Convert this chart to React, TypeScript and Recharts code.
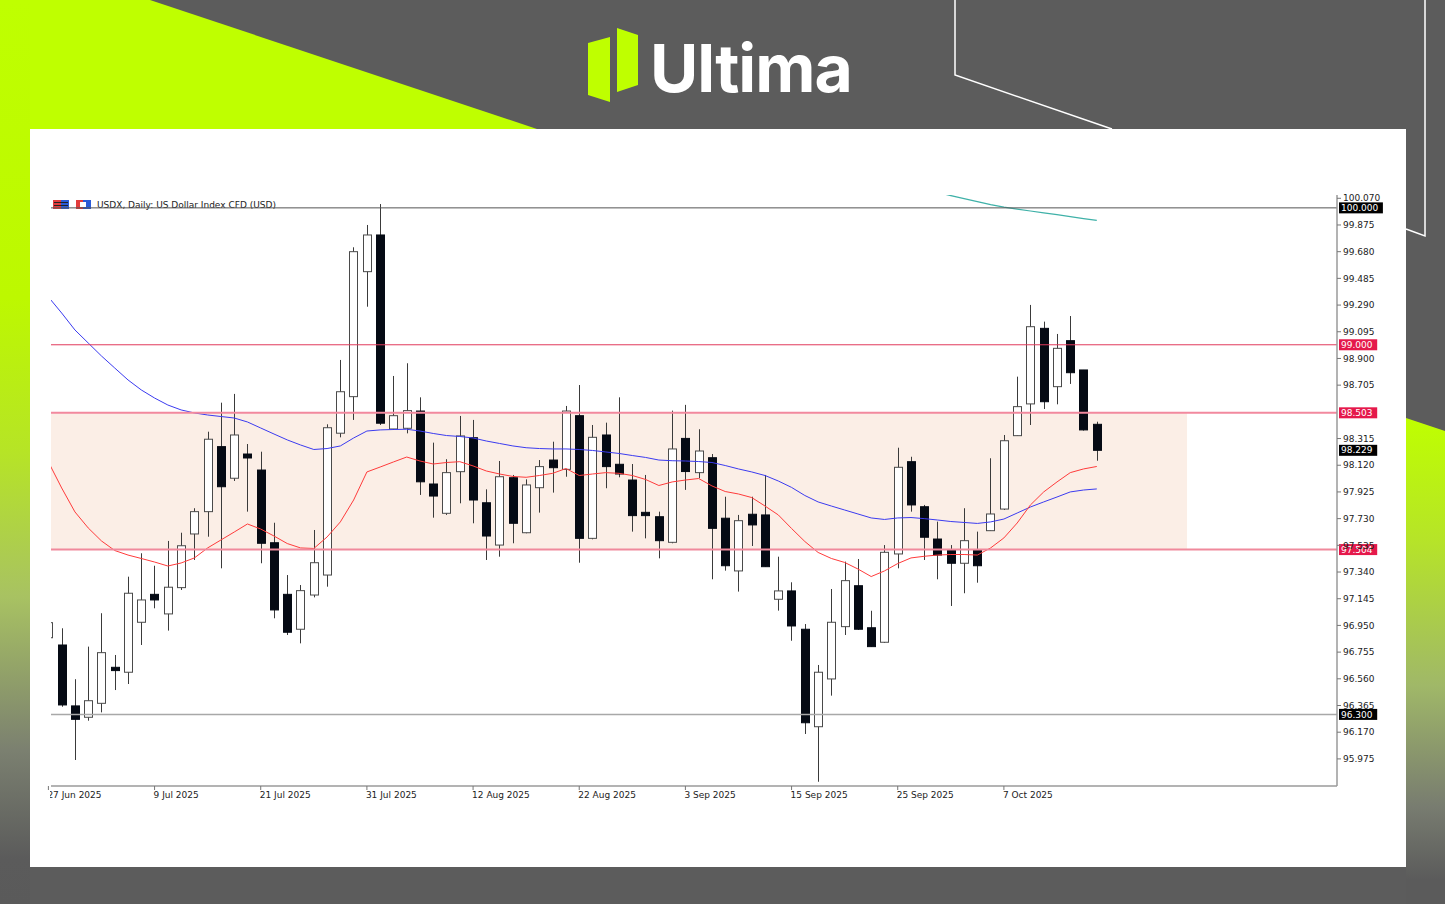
import React from 'react';
import {
  ComposedChart,
  Bar,
  Line,
  XAxis,
  YAxis,
  ReferenceLine,
  ReferenceArea
} from 'recharts';

// daily bars 27 Jun 2025 .. 16 Oct 2025 (index = bar number)
const opens = [
  96.86, 96.807, 96.362, 96.279, 96.381, 96.644, 96.608, 96.973, 97.177, 97.034,
  97.226, 97.618, 97.781, 98.256, 98.025, 98.202, 98.085, 97.554, 97.177, 96.922,
  97.172, 97.318, 98.354, 98.621, 99.534, 99.802, 98.385, 98.39, 98.516, 97.983,
  97.769, 98.073, 98.321, 97.846, 97.537, 98.029, 97.627, 97.956, 98.158, 98.09,
  98.482, 97.586, 98.341, 98.127, 98.012, 97.776, 97.744, 97.557, 98.316, 98.066,
  98.175, 97.733, 97.348, 97.762, 97.757, 97.141, 97.202, 96.922, 96.21, 96.559,
  96.941, 97.24, 96.933, 96.827, 97.472, 98.146, 97.817, 97.581, 97.501, 97.404,
  97.501, 97.642, 97.8, 98.336, 98.568, 99.12, 98.694, 99.03, 98.816, 98.419
];
const highs = [
  97.0, 96.929, 96.557, 96.795, 97.039, 96.734, 97.306, 97.477, 97.386, 97.567,
  97.627, 97.806, 98.365, 98.577, 98.641, 98.275, 98.219, 97.7, 97.318, 97.245,
  97.647, 98.419, 98.889, 99.712, 99.875, 100.028, 98.772, 98.865, 98.616, 98.285,
  98.164, 98.48, 98.451, 97.944, 98.151, 98.049, 98.017, 98.158, 98.292, 98.553,
  98.706, 98.414, 98.431, 98.616, 98.129, 98.049, 97.781, 98.519, 98.561, 98.383,
  98.202, 97.89, 97.757, 97.89, 98.049, 97.452, 97.265, 96.96, 96.661, 97.216,
  97.416, 97.435, 97.057, 97.537, 98.248, 98.182, 97.83, 97.708, 97.537, 97.806,
  97.635, 98.171, 98.341, 98.767, 99.291, 99.169, 99.079, 99.21, 98.816, 98.438
];
const lows = [
  96.82, 96.356, 95.967, 96.254, 96.315, 96.478, 96.522, 96.807, 97.075, 96.912,
  97.209, 97.428, 97.598, 97.367, 98.005, 97.781, 97.404, 97.002, 96.88, 96.819,
  97.155, 97.233, 98.324, 98.451, 99.278, 98.414, 98.378, 98.353, 97.903, 97.737,
  97.757, 97.842, 97.696, 97.428, 97.452, 97.55, 97.623, 97.774, 97.92, 98.036,
  97.408, 97.579, 97.952, 98.032, 97.635, 97.586, 97.44, 97.55, 97.94, 98.025,
  97.287, 97.35, 97.197, 97.53, 97.377, 97.058, 96.838, 96.157, 95.808, 96.437,
  96.88, 96.917, 96.793, 96.822, 97.367, 97.781, 97.428, 97.287, 97.092, 97.185,
  97.262, 97.64, 97.793, 98.334, 98.414, 98.531, 98.565, 98.714, 98.373, 98.153
];
const closes = [
  96.97, 96.369, 96.264, 96.4, 96.751, 96.62, 97.185, 97.136, 97.136, 97.229,
  97.532, 97.781, 98.31, 97.963, 98.341, 98.173, 97.55, 97.063, 96.9, 97.204,
  97.408, 98.394, 98.657, 99.68, 99.802, 98.427, 98.482, 98.519, 97.999, 97.895,
  98.066, 98.334, 97.866, 97.603, 98.036, 97.696, 97.976, 98.11, 98.102, 98.516,
  97.586, 98.324, 98.11, 98.056, 97.752, 97.752, 97.569, 98.239, 98.074, 98.224,
  97.659, 97.386, 97.715, 97.684, 97.379, 97.202, 96.946, 96.239, 96.608, 96.973,
  97.277, 96.922, 96.795, 97.484, 98.105, 97.83, 97.594, 97.464, 97.404, 97.569,
  97.386, 97.764, 98.299, 98.548, 99.132, 98.584, 98.974, 98.796, 98.378, 98.229
];

// moving averages
const maRed = [
  98.144, 97.954, 97.779, 97.662, 97.567, 97.497, 97.464, 97.439, 97.413, 97.384,
  97.406, 97.443, 97.516, 97.574, 97.632, 97.691, 97.654, 97.603, 97.548, 97.516,
  97.512, 97.596, 97.706, 97.866, 98.071, 98.107, 98.144, 98.18, 98.151, 98.129,
  98.14, 98.146, 98.115, 98.078, 98.056, 98.038, 98.032, 98.045, 98.061, 98.096,
  98.045, 98.056, 98.066, 98.061, 98.045, 98.016, 97.972, 97.998, 98.012, 98.023,
  97.969, 97.928, 97.91, 97.884, 97.822, 97.757, 97.658, 97.563, 97.483, 97.439,
  97.41, 97.362, 97.307, 97.348, 97.402, 97.443, 97.455, 97.464, 97.468, 97.468,
  97.464, 97.516, 97.589, 97.698, 97.83, 97.925, 97.998, 98.066, 98.093, 98.111
];
const maBlue = [
  99.349, 99.232, 99.108, 99.013, 98.918, 98.83, 98.743, 98.67, 98.611, 98.56,
  98.524, 98.502, 98.487, 98.476, 98.465, 98.436, 98.392, 98.348, 98.305, 98.268,
  98.235, 98.242, 98.261, 98.319, 98.37, 98.378, 98.381, 98.383, 98.37, 98.352,
  98.337, 98.33, 98.319, 98.297, 98.279, 98.261, 98.248, 98.242, 98.239, 98.239,
  98.235, 98.228, 98.217, 98.206, 98.191, 98.177, 98.158, 98.153, 98.151, 98.147,
  98.14, 98.118, 98.093, 98.071, 98.045, 98.005, 97.958, 97.899, 97.852, 97.822,
  97.793, 97.764, 97.735, 97.724, 97.735, 97.738, 97.73, 97.72, 97.709, 97.702,
  97.695, 97.706, 97.727, 97.771, 97.815, 97.852, 97.888, 97.925, 97.939, 97.947
];
// long average only shows at the top right, from bar 67 on
const maTealStart = 67;
const maTeal = [
  100.112, 100.09, 100.068, 100.046, 100.024, 100.005, 99.991, 99.977, 99.963,
  99.95, 99.936, 99.922, 99.909
];

const dateTicks = [0, 8, 16, 24, 32, 40, 48, 56, 64, 72];
const dateLabels = [
  '27 Jun 2025', '9 Jul 2025', '21 Jul 2025', '31 Jul 2025', '12 Aug 2025',
  '22 Aug 2025', '3 Sep 2025', '15 Sep 2025', '25 Sep 2025', '7 Oct 2025'
];

const priceTicks = [
  100.07, 99.875, 99.68, 99.485, 99.29, 99.095, 98.9, 98.705, 98.315, 98.12,
  97.925, 97.73, 97.535, 97.34, 97.145, 96.95, 96.755, 96.56, 96.365, 96.17, 95.975
];

const zoneLow = 97.504;
const zoneHigh = 98.503;
const zoneEnd = 85.8;
const resistance = 99.0;
const roundLevel = 100.0;
const supportLevel = 96.3;
const lastPrice = 98.229;

const data = opens.map((o, i) => ({
  i,
  open: o,
  high: highs[i],
  low: lows[i],
  close: closes[i],
  range: [lows[i], highs[i]],
  maRed: maRed[i],
  maBlue: maBlue[i],
  maTeal: i >= maTealStart ? maTeal[i - maTealStart] : null
}));

const FONT = 'DejaVu Sans, sans-serif';
const PLOT_LEFT = 51;

function Candle(props: any) {
  const { x, y, width, height, payload } = props;
  if (x == null || y == null || !payload) return null;
  const { open, high, low, close } = payload;
  const top = Math.min(y, y + height);
  const h = Math.abs(height);
  const toY = (v: number) => (high === low ? top : top + ((high - v) / (high - low)) * h);
  const cx = Math.round(x + width / 2) + 0.5;
  const bodyTop = toY(Math.max(open, close));
  const bodyBot = toY(Math.min(open, close));
  const bull = close >= open;
  return (
    <g>
      <line x1={cx} x2={cx} y1={top} y2={top + h} stroke="#3a3a3a" strokeWidth={1} />
      <rect
        x={cx - 4}
        y={bodyTop}
        width={8}
        height={Math.max(1, bodyBot - bodyTop)}
        fill={bull ? '#ffffff' : '#050a14'}
        stroke={bull ? '#4a4a4a' : '#050a14'}
        strokeWidth={1}
      />
    </g>
  );
}

function DateTick(props: any) {
  const { x, y, payload, index } = props;
  const label = dateLabels[dateTicks.indexOf(payload.value)] ?? '';
  return (
    <g>
      {index === 0 && (
        <defs>
          <clipPath id="firstTickClip">
            <rect x={PLOT_LEFT - 1} y={y - 10} width={200} height={30} />
          </clipPath>
        </defs>
      )}
      <text
        x={x - 1}
        y={y}
        dy="0.71em"
        textAnchor="start"
        fontSize={9}
        fontFamily={FONT}
        fill="#222"
        clipPath={index === 0 ? 'url(#firstTickClip)' : undefined}
      >
        {label}
      </text>
    </g>
  );
}

function priceBox(color: string, text: string) {
  return (props: any) => {
    const vb = props.viewBox || {};
    const right = (vb.x ?? 0) + (vb.width ?? 0);
    const w = text.length * 5.7 + 4;
    return (
      <g>
        <rect x={right + 2} y={vb.y - 5.5} width={w} height={11} fill={color} />
        <text
          x={right + 4}
          y={vb.y}
          dy="0.35em"
          fontSize={9}
          fontFamily={FONT}
          fill="#fff"
        >
          {text}
        </text>
      </g>
    );
  };
}

function Frame() {
  return (
    <svg width={1445} height={904} style={{ position: 'absolute', left: 0, top: 0 }}>
      <defs>
        <linearGradient id="leftFade" x1="0" y1="0" x2="0" y2="904" gradientUnits="userSpaceOnUse">
          <stop offset="0" stopColor="#bfff00" />
          <stop offset="0.33" stopColor="#bdf800" />
          <stop offset="0.5" stopColor="#b6e426" />
          <stop offset="0.66" stopColor="#a8c262" />
          <stop offset="0.83" stopColor="#7b8070" />
          <stop offset="0.95" stopColor="#5b5b5b" />
          <stop offset="1" stopColor="#5a5a5a" />
        </linearGradient>
        <linearGradient id="rightFade" x1="0" y1="418" x2="0" y2="904" gradientUnits="userSpaceOnUse">
          <stop offset="0" stopColor="#bfff00" />
          <stop offset="0.25" stopColor="#b6e428" />
          <stop offset="0.55" stopColor="#a0b868" />
          <stop offset="0.8" stopColor="#787c70" />
          <stop offset="0.95" stopColor="#5b5b5b" />
        </linearGradient>
      </defs>
      <rect width={1445} height={904} fill="#5c5c5c" />
      <polygon points="0,0 150,0 537,129 0,129" fill="#bfff00" />
      <rect x={0} y={0} width={30} height={904} fill="url(#leftFade)" />
      <polygon points="1406,418 1445,431 1445,904 1406,904" fill="url(#rightFade)" />
      <polyline points="955,0 955,75 1112,129" stroke="#fff" strokeWidth={1.5} fill="none" />
      <polyline points="1425,0 1425,236 1406,229" stroke="#fff" strokeWidth={1.5} fill="none" />
      <rect x={30} y={129} width={1376} height={738} fill="#fff" />

      {/* logo */}
      <polygon points="588,43 610,37 610,102 588,95" fill="#bfff00" />
      <polygon points="617,28 638,35 638,85 617,92" fill="#bfff00" />
      <text x={650} y={92} fontSize={66} fontWeight={700} fontFamily="Inter, sans-serif" fill="#fff" letterSpacing={-1}>
        Ultima
      </text>

      {/* chart header */}
      <rect x={53} y={200} width={8} height={9} fill="#e23b3b" />
      <rect x={61} y={200} width={8} height={9} fill="#2a5bd7" />
      <rect x={54} y={202} width={14} height={1} fill="#222" />
      <rect x={54} y={205} width={14} height={1} fill="#222" />
      <rect x={76} y={200} width={7} height={9} fill="#e23b3b" />
      <rect x={83} y={200} width={8} height={9} fill="#2a5bd7" />
      <rect x={80} y={202} width={6} height={5} fill="#fff" />
      <text x={97} y={208} fontSize={9} fontFamily={FONT} fill="#222">
        USDX, Daily:  US Dollar Index CFD (USD)
      </text>
    </svg>
  );
}

export default function App() {
  return (
    <div style={{ position: 'fixed', left: 0, top: 0, width: 1445, height: 904, overflow: 'hidden' }}>
      <Frame />
      <div style={{ position: 'absolute', left: 0, top: 0 }}>
        <ComposedChart
          width={1445}
          height={904}
          data={data}
          margin={{ top: 195, left: 51, right: 48, bottom: 98 }}
        >
          <ReferenceArea
            x2={zoneEnd}
            y1={zoneLow}
            y2={zoneHigh}
            fill="#fbeee6"
            fillOpacity={1}
            stroke="none"
          />
          <XAxis
            type="number"
            dataKey="i"
            domain={[0.196, 97.1]}
            allowDataOverflow
            ticks={dateTicks}
            interval={0}
            height={20}
            tickSize={4}
            tickMargin={2}
            tick={<DateTick />}
            axisLine={{ stroke: '#9a9a9a', strokeWidth: 1.5 }}
            tickLine={{ stroke: '#777' }}
          />
          <YAxis
            orientation="right"
            type="number"
            domain={[95.777, 100.094]}
            allowDataOverflow
            ticks={priceTicks}
            interval={0}
            width={60}
            tickSize={4}
            tickMargin={2}
            tickFormatter={(v: number) => v.toFixed(3)}
            tick={{ fontSize: 9, fill: '#222', fontFamily: FONT }}
            axisLine={{ stroke: '#9a9a9a', strokeWidth: 1.5 }}
            tickLine={{ stroke: '#777' }}
          />
          <Bar dataKey="range" barSize={9} shape={(p: any) => <Candle {...p} />} isAnimationActive={false} />
          <Line type="linear" dataKey="maBlue" stroke="#3b3bf0" strokeWidth={1} dot={false} isAnimationActive={false} />
          <Line type="linear" dataKey="maRed" stroke="#ff3b3b" strokeWidth={1} dot={false} isAnimationActive={false} />
          <Line type="linear" dataKey="maTeal" stroke="#3fb1a8" strokeWidth={1.2} dot={false} connectNulls={false} isAnimationActive={false} />
          <ReferenceLine y={roundLevel} stroke="#555" strokeWidth={1} label={priceBox('#000', '100.000')} />
          <ReferenceLine y={resistance} stroke="#e23a5c" strokeWidth={1} label={priceBox('#e5194b', '99.000')} />
          <ReferenceLine y={zoneHigh} stroke="#f2899e" strokeWidth={2} label={priceBox('#e5194b', '98.503')} />
          <ReferenceLine y={lastPrice} stroke="none" strokeOpacity={0} label={priceBox('#000', '98.229')} />
          <ReferenceLine y={zoneLow} stroke="#f0899c" strokeWidth={2} label={priceBox('#e5194b', '97.504')} />
          <ReferenceLine y={supportLevel} stroke="#a8a8a8" strokeWidth={1.5} label={priceBox('#000', '96.300')} />
        </ComposedChart>
      </div>
    </div>
  );
}
